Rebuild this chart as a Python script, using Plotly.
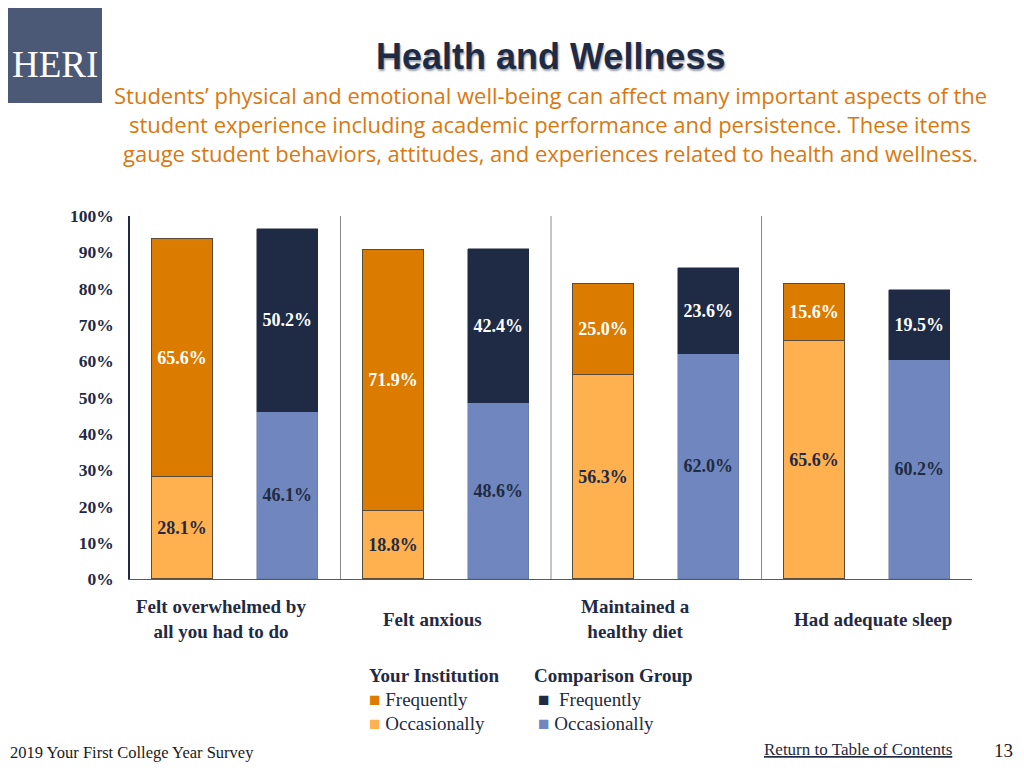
import plotly.graph_objects as go

categories = ["Felt overwhelmed by<br>all you had to do", "Felt anxious", "Maintained a<br>healthy diet", "Had adequate sleep"]
inst_occ = [28.1, 18.8, 56.3, 65.6]
inst_freq = [65.6, 71.9, 25.0, 15.6]
comp_occ = [46.1, 48.6, 62.0, 60.2]
comp_freq = [50.2, 42.4, 23.6, 19.5]
y_ticks = [0, 10, 20, 30, 40, 50, 60, 70, 80, 90, 100]
y_tick_labels = [f"{v}%" for v in y_ticks]

C_IF = "#DB7B00"
C_IO = "#FFB04F"
C_CF = "#1F2A44"
C_CO = "#6F87BE"
NAVY = "#1F2A44"
SERIF = "Liberation Serif"
SANS = "Open Sans"

OFF = 8  # page body margin
W, H = 1024 - OFF, 768 - OFF
L, R, T, B = 130 - OFF, 972 - OFF, 216 - OFF, 579 - OFF


def px(xp):
    return (xp - OFF - L) / (R - L)


def py(yp):
    return (B - (yp - OFF)) / (B - T)


n = len(categories)
x_inst = [i - 0.25 for i in range(n)]
x_comp = [i + 0.25 for i in range(n)]
bw = 0.29


def lbl(vals):
    return [f"{v:.1f}%" for v in vals]


fig = go.Figure()
common = dict(width=bw, textposition="inside", insidetextanchor="middle",
              constraintext="none", hoverinfo="skip", showlegend=False)
fig.add_trace(go.Bar(x=x_inst, y=inst_occ, text=lbl(inst_occ),
                     marker=dict(color=C_IO, line=dict(color="#5a4a3a", width=1)),
                     textfont=dict(family=SERIF, size=18, color=NAVY, weight="bold"), **common))
fig.add_trace(go.Bar(x=x_inst, y=inst_freq, text=lbl(inst_freq),
                     marker=dict(color=C_IF, line=dict(color="#5a4a3a", width=1)),
                     textfont=dict(family=SERIF, size=18, color="white", weight="bold"), **common))
fig.add_trace(go.Bar(x=x_comp, y=comp_occ, text=lbl(comp_occ),
                     marker=dict(color=C_CO, line=dict(color="#5f739f", width=0.5)),
                     textfont=dict(family=SERIF, size=18, color=NAVY, weight="bold"), **common))
fig.add_trace(go.Bar(x=x_comp, y=comp_freq, text=lbl(comp_freq),
                     marker=dict(color=C_CF, line=dict(color=C_CF, width=0.5)),
                     textfont=dict(family=SERIF, size=18, color="white", weight="bold"), **common))

shapes = []
for i in range(n - 1):
    shapes.append(dict(type="line", xref="x", yref="paper", x0=i + 0.5, x1=i + 0.5, y0=0, y1=1,
                       line=dict(color="#8a8a8a", width=1)))
# logo
shapes.append(dict(type="rect", xref="paper", yref="paper", x0=px(0), x1=px(102), y0=py(0), y1=py(103),
                   fillcolor="#4B5976", line=dict(width=0), layer="below"))

annotations = []
label_shift = [-14, -13, -21, 6]
for i, c in enumerate(categories):
    annotations.append(dict(x=i, y=py(619), xref="x", yref="paper", text=c, showarrow=False,
                            xshift=label_shift[i], xanchor="center", yanchor="middle", align="center",
                            font=dict(family=SERIF, size=19, color=NAVY, weight="bold")))

# title and subtitle
annotations.append(dict(x=px(550), y=py(57), xref="paper", yref="paper", showarrow=False,
                        text="Health and Wellness", xanchor="center", yanchor="middle",
                        font=dict(family="Liberation Sans", size=36, color=NAVY, weight="bold",
                                  shadow="1px 2px 2px #9aa0ab")))
sub = ["Students\u2019 physical and emotional well-being can affect many important aspects of the",
       "student experience including academic performance and persistence. These items",
       "gauge student behaviors, attitudes, and experiences related to health and wellness."]
for k, s in enumerate(sub):
    annotations.append(dict(x=px(550), y=py(95 + 29 * k), xref="paper", yref="paper", showarrow=False,
                            text=s, xanchor="center", yanchor="middle",
                            font=dict(family=SANS, size=22, color="#D9780F")))

annotations.append(dict(x=px(55), y=py(64), xref="paper", yref="paper", showarrow=False,
                        text="HERI", xanchor="center", yanchor="middle",
                        font=dict(family=SERIF, size=37, color="white")))

# legend (custom)
leg = [
    (367, 675, "<b>Your Institution</b>"),
    (367, 699, f'<span style="color:{C_IF}">\u25a0</span> Frequently'),
    (367, 723, f'<span style="color:{C_IO}">\u25a0</span> Occasionally'),
    (532, 675, "<b>Comparison Group</b>"),
    (536, 699, f'<span style="color:{C_CF}">\u25a0</span>  Frequently'),
    (536, 723, f'<span style="color:{C_CO}">\u25a0</span> Occasionally'),
]
for xx, yy, t in leg:
    annotations.append(dict(x=px(xx), y=py(yy), xref="paper", yref="paper", showarrow=False,
                            text=t, xanchor="left", yanchor="middle",
                            font=dict(family=SERIF, size=19, color=NAVY)))

# footer
annotations.append(dict(x=px(8), y=py(752), xref="paper", yref="paper", showarrow=False,
                        text="2019 Your First College Year Survey", xanchor="left", yanchor="middle",
                        font=dict(family=SERIF, size=16.5, color="#1a1a1a")))
annotations.append(dict(x=px(762), y=py(749), xref="paper", yref="paper", showarrow=False,
                        text="<u>Return to Table of Contents</u>", xanchor="left", yanchor="middle",
                        font=dict(family=SERIF, size=17, color=NAVY)))
annotations.append(dict(x=px(1015), y=py(750), xref="paper", yref="paper", showarrow=False,
                        text="13", xanchor="right", yanchor="middle",
                        font=dict(family=SERIF, size=19, color="#1a1a1a")))

fig.update_layout(
    width=W, height=H, barmode="stack", bargap=0,
    margin=dict(l=L, r=W - R, t=T, b=H - B, pad=0),
    plot_bgcolor="white", paper_bgcolor="white",
    shapes=shapes, annotations=annotations, showlegend=False,
    xaxis=dict(range=[-0.5, n - 0.5], showticklabels=False, showgrid=False, zeroline=False,
               showline=True, linecolor="#595959", linewidth=1, fixedrange=True),
    yaxis=dict(range=[0, 100], tickvals=y_ticks, ticktext=y_tick_labels, showgrid=False,
               zeroline=False, showline=True, linecolor=NAVY, linewidth=1.5, ticks="",
               ticklabelstandoff=11,
               tickfont=dict(family=SERIF, size=17.5, color=NAVY, weight="bold"), fixedrange=True),
)

fig.write_html("out.html")
